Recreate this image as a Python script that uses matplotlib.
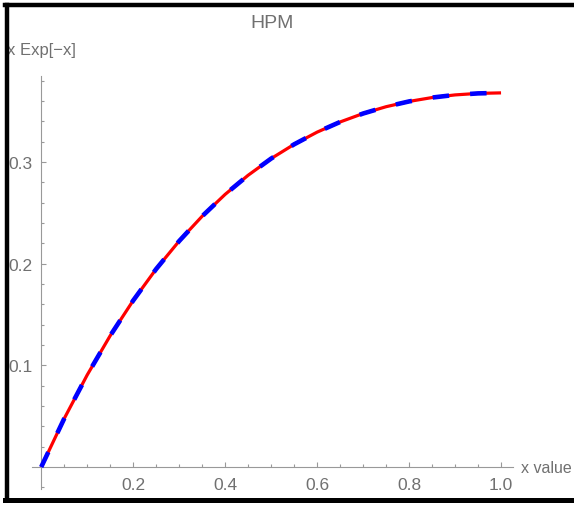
import matplotlib.pyplot as plt
from matplotlib.lines import Line2D
from matplotlib.ticker import FixedLocator, MultipleLocator

plt.rcParams['font.family'] = ['Liberation Sans', 'DejaVu Sans']

# x Exp[-x]
x_vals = [0.0, 0.05, 0.1, 0.15, 0.2, 0.25, 0.3, 0.35, 0.4, 0.45, 0.5,
          0.55, 0.6, 0.65, 0.7, 0.75, 0.8, 0.85, 0.9, 0.95, 1.0]
y_vals = [0.0, 0.0476, 0.0905, 0.1291, 0.1637, 0.1947, 0.2222, 0.2466,
          0.2681, 0.2869, 0.3033, 0.3173, 0.3293, 0.3393, 0.3476, 0.3543,
          0.3595, 0.3633, 0.3659, 0.3674, 0.3679]

x_ticks = [0.2, 0.4, 0.6, 0.8, 1.0]
x_tick_labels = ['0.2', '0.4', '0.6', '0.8', '1.0']
y_ticks = [0.1, 0.2, 0.3]
y_tick_labels = ['0.1', '0.2', '0.3']

grey = '#707070'

fig = plt.figure(figsize=(5.74, 5.06), dpi=100)
ax = fig.add_axes([32 / 574, 16 / 506, 481 / 574, 413 / 506])

ax.plot(x_vals, y_vals, color='red', lw=2.3, solid_capstyle='butt', zorder=2)
ax.plot(x_vals, y_vals, color='blue', lw=3.3, dashes=(3.6, 4.6),
        dash_capstyle='butt', zorder=3)

ax.set_xlim(-0.02, 1.026)
ax.set_ylim(-0.0216, 0.3845)

for side in ['top', 'right']:
    ax.spines[side].set_visible(False)
for side in ['left', 'bottom']:
    ax.spines[side].set_position(('data', 0))
    ax.spines[side].set_color('#999999')
    ax.spines[side].set_linewidth(0.8)

ax.xaxis.set_major_locator(FixedLocator(x_ticks))
ax.set_xticklabels(x_tick_labels)
ax.xaxis.set_minor_locator(MultipleLocator(0.05))
ax.yaxis.set_major_locator(FixedLocator(y_ticks))
ax.set_yticklabels(y_tick_labels)
ax.yaxis.set_minor_locator(MultipleLocator(0.02))

ax.tick_params(which='both', direction='in', color='#999999', width=0.8,
               labelcolor=grey, labelsize=12.5)
ax.tick_params(axis='y', which='major', length=3.5, pad=6)
ax.tick_params(axis='x', which='major', length=3.5, pad=7)
ax.tick_params(which='minor', length=2)

fig.text(272 / 574, 1 - 23 / 506, 'HPM', color=grey, fontsize=14,
         ha='center', va='center')
ax.annotate('x Exp[−x]', xy=(0, 1), xycoords=('data', 'axes fraction'),
            xytext=(0, 19), textcoords='offset points',
            ha='center', va='center', color=grey, fontsize=12)
ax.annotate('x value', xy=(1, 0), xycoords=('axes fraction', 'data'),
            xytext=(6, 0), textcoords='offset points',
            ha='left', va='center', color=grey, fontsize=11.5)

# black frame around the picture (no right side)
fig.add_artist(Line2D([7 / 574, 7 / 574], [1 - 5.5 / 506, 1 - 500.5 / 506],
                      transform=fig.transFigure, color='black', lw=3.2))
fig.add_artist(Line2D([5 / 574, 1.0], [1 - 5.5 / 506, 1 - 5.5 / 506],
                      transform=fig.transFigure, color='black', lw=3.2))
fig.add_artist(Line2D([5 / 574, 1.0], [1 - 500.5 / 506, 1 - 500.5 / 506],
                      transform=fig.transFigure, color='black', lw=3.6))

fig.savefig('out.png', dpi=100)
